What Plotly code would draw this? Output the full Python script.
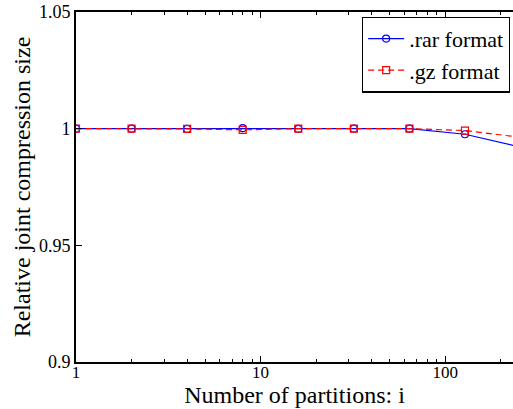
import plotly.graph_objects as go
import numpy as np

partitions = [1, 2, 4, 8, 16, 32, 64, 128, 256]
rar_values = [1.0, 1.0, 0.9999, 1.0002, 0.9999, 1.0, 1.0, 0.9976, 0.9921]
gz_values = [1.0, 1.0, 0.9999, 0.9995, 1.0, 1.0, 1.0, 0.9992, 0.9963]
x_ticks = [1, 10, 100]
x_tick_labels = ["1", "10", "100"]
y_ticks = [0.9, 0.95, 1.0, 1.05]
y_tick_labels = ["0.9", "0.95", "1", "1.05"]

FONT = "Liberation Serif"

fig = go.Figure()
fig.add_trace(go.Scatter(
    x=partitions, y=rar_values, name=".rar format", mode="lines+markers",
    line=dict(color="#0000ff", width=1.2),
    marker=dict(symbol="circle-open", size=7, color="#0000ff", line=dict(width=1.2)),
))
fig.add_trace(go.Scatter(
    x=partitions, y=gz_values, name=".gz format", mode="lines+markers",
    line=dict(color="#ff0000", width=1.2, dash="6px,4px"),
    marker=dict(symbol="square-open", size=7, color="#ff0000", line=dict(width=1.2)),
))

minor_vals = [m * d for d in (1, 10, 100) for m in range(2, 10)]

fig.update_layout(
    width=513, height=409,
    margin=dict(l=76, r=0, t=12, b=47),
    paper_bgcolor="white", plot_bgcolor="white",
    font=dict(family=FONT, size=18, color="black"),
    showlegend=True,
    legend=dict(
        x=0.993, y=0.987, xanchor="right", yanchor="top",
        bgcolor="white", bordercolor="black", borderwidth=1.2,
        font=dict(family=FONT, size=22),
        tracegroupgap=0, itemwidth=36,
    ),
    xaxis=dict(
        type="log", range=[0, np.log10(233)],
        tickvals=x_ticks, ticktext=x_tick_labels,
        ticks="inside", ticklen=6, tickwidth=1, tickcolor="black",
        minor=dict(ticks="inside", ticklen=3, tickwidth=1, tickcolor="black", tickvals=minor_vals),
        showline=True, linecolor="black", linewidth=2, mirror="ticks",
        showgrid=False, zeroline=False,
        tickfont=dict(family=FONT, size=17),
        ticklabelstandoff=-6,
        title=dict(text="Number of partitions: i", font=dict(family=FONT, size=24), standoff=1),
    ),
    yaxis=dict(
        range=[0.9, 1.05],
        tickvals=y_ticks, ticktext=y_tick_labels,
        ticks="inside", ticklen=6, tickwidth=1, tickcolor="black",
        showline=True, linecolor="black", linewidth=2, mirror=False,
        showgrid=False, zeroline=False,
        tickfont=dict(family=FONT, size=18),
        title=dict(text="Relative joint compression size", font=dict(family=FONT, size=24), standoff=2),
    ),
)

fig.write_html("out.html")
